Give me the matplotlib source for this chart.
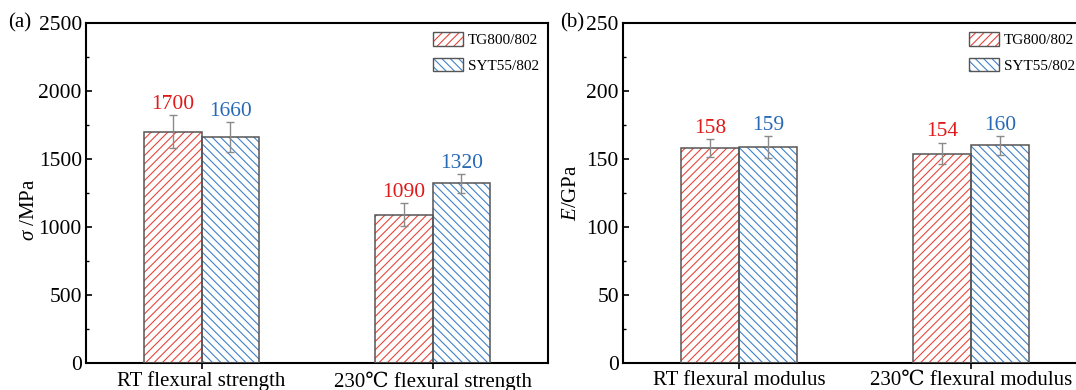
import matplotlib
matplotlib.use('Agg')
import matplotlib.pyplot as plt
import numpy as np
from matplotlib.patches import Patch
from matplotlib.legend_handler import HandlerTuple
from matplotlib.ticker import MultipleLocator

plt.rcParams['font.family'] = ['Liberation Serif', 'DejaVu Serif']
plt.rcParams['mathtext.fontset'] = 'custom'
plt.rcParams['mathtext.it'] = 'Liberation Serif:italic'
plt.rcParams['mathtext.rm'] = 'Liberation Serif'
plt.rcParams['hatch.linewidth'] = 0.8

# data
series = ['TG800/802', 'SYT55/802']
strength_cats = ['RT flexural strength', '230\u2103 flexural strength']
strength_tg = [1700, 1090]
strength_syt = [1660, 1320]
strength_tg_err = [120, 85]
strength_syt_err = [110, 70]

modulus_cats = ['RT flexural modulus', '230\u2103 flexural modulus']
modulus_tg = [158, 154]
modulus_syt = [159, 160]
modulus_tg_err = [6.5, 8]
modulus_syt_err = [8, 7]

red = '#e8453a'
blue = '#3f82c8'
red_txt = '#e01a1a'
blue_txt = '#2769b5'
edge = '#555555'
err_c = '#8a8a8a'

fig = plt.figure(figsize=(10.76, 3.90), dpi=100)
W, H = 1076, 390
ax1 = fig.add_axes([86 / W, 27 / H, 462 / W, 340 / H])
ax2 = fig.add_axes([623 / W, 27 / H, 464 / W, 340 / H])

HR = '////'
HB = '\\\\\\\\'


def draw(ax, cats, v1, v2, e1, e2, ymax, major, minor, off, leg_anchor):
    x = np.arange(len(cats))
    w = 0.25
    for vals, errs, col, tcol, hatch, dx in [(v1, e1, red, red_txt, HR, -w / 2),
                                               (v2, e2, blue, blue_txt, HB, w / 2)]:
        ax.bar(x + dx, vals, w, color='white', edgecolor=col, hatch=hatch, linewidth=0, zorder=2)
        ax.bar(x + dx, vals, w, fill=False, edgecolor=edge, linewidth=1.1, zorder=3)
        ax.errorbar(x + dx, vals, yerr=errs, fmt='none', ecolor=err_c, elinewidth=1,
                    capsize=3, capthick=1, zorder=4)
        for xi, v, e in zip(x + dx, vals, errs):
            ax.text(xi, v + e + off, str(v), color=tcol, ha='center', va='bottom', fontsize=15.5)
    ax.set_xlim(-0.5, 1.5)
    ax.set_ylim(0, ymax)
    ax.set_xticks(x)
    ax.set_xticklabels(cats, fontsize=15)
    ax.yaxis.set_major_locator(MultipleLocator(major))
    ax.yaxis.set_minor_locator(MultipleLocator(minor))
    ax.tick_params(axis='y', which='major', direction='in', length=4, width=1.2, labelsize=15.5, pad=3)
    ax.tick_params(axis='y', which='minor', direction='in', length=2.5, width=1)
    ax.tick_params(axis='x', direction='out', length=4, width=1.2, pad=2)
    for s in ax.spines.values():
        s.set_linewidth(1.5)
    handles = [(Patch(facecolor='white', edgecolor=red, hatch=HR, linewidth=0),
                Patch(fill=False, edgecolor=edge, linewidth=1.0)),
               (Patch(facecolor='white', edgecolor=blue, hatch=HB, linewidth=0),
                Patch(fill=False, edgecolor=edge, linewidth=1.0))]
    ax.legend(handles, series, handler_map={tuple: HandlerTuple(ndivide=1, pad=0)},
              loc='upper right', bbox_to_anchor=leg_anchor, bbox_transform=fig.transFigure,
              frameon=False, fontsize=11, handlelength=2.0,
              handleheight=1.0, handletextpad=0.3, labelspacing=0.7,
              borderaxespad=0, borderpad=0)


draw(ax1, strength_cats, strength_tg, strength_syt, strength_tg_err, strength_syt_err,
     2500, 500, 250, 10, (539 / W, 1 - 32 / H))
draw(ax2, modulus_cats, modulus_tg, modulus_syt, modulus_tg_err, modulus_syt_err,
     250, 50, 25, 1, (1075 / W, 1 - 32 / H))

ax1.set_ylabel(r'$\it{\sigma}$ /MPa', fontsize=15, va='center')
ax2.set_ylabel(r'$E$/GPa', fontsize=15, va='center')
ax1.yaxis.set_label_coords((30 - 86) / 462, 0.45)
ax2.yaxis.set_label_coords((571 - 623) / 464, 0.5)

fig.text(8 / W, 1 - 23 / H, '(a)', fontsize=15, va='center', ha='left')
fig.text(560 / W, 1 - 23 / H, '(b)', fontsize=15, va='center', ha='left')

fig.savefig('out.png', dpi=100)
